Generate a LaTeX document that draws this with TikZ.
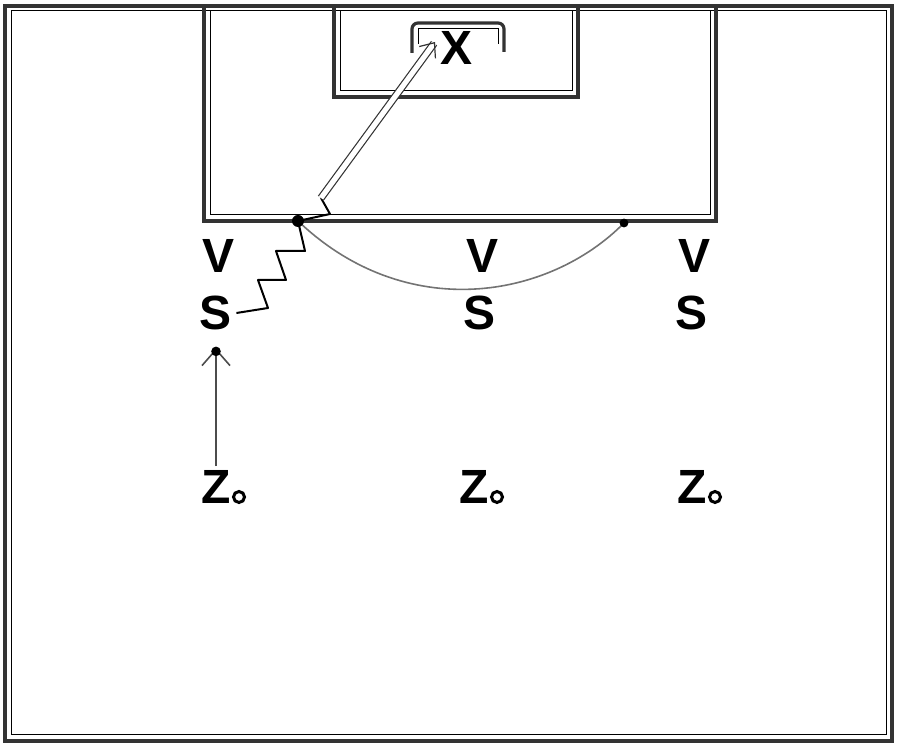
\documentclass[tikz,border=0pt]{standalone}
\usepackage{fontspec}
\setmainfont{Liberation Sans}
\usetikzlibrary{arrows.meta}

\begin{document}
\begin{tikzpicture}[x=0.5pt,y=-0.5pt,
		thickline/.style={line width=1.6pt, black!80},
		thinline/.style={line width=0.5pt, black},
		lbl/.style={font=\fontsize{24}{26}\selectfont\bfseries, inner sep=2pt},
		ring/.style={circle, draw, line width=1.5pt, inner sep=0pt, minimum size=5.5pt},
		pass/.style={line width=1.2pt, black!70, shorten >=7pt, -{Straight Barb[length=8pt,width=14pt,line width=0.8pt]}},
		dribble/.style={line width=1pt, black, line join=round},
		shot/.style={line width=0.6pt, double=white, double distance=2.6pt, black!80, -{Straight Barb[length=6pt,width=10pt]}}]
		\useasboundingbox (0,0) rectangle (900,747);
		% pitch
		\draw[thickline] (5,6) rectangle (892,741);
		\draw[thinline] (11,11) rectangle (886,735);
		\draw[thickline] (204,6) -- (204,221) -- (716,221) -- (716,6);
		\draw[thinline] (210,11) -- (210,215) -- (710,215) -- (710,11);
		\draw[thickline] (334,6) -- (334,97) -- (578,97) -- (578,6);
		\draw[thinline] (340,11) -- (340,91) -- (572,91) -- (572,11);
		\draw[thickline, rounded corners=3pt] (412,53) -- (412,23) -- (504,23) -- (504,52);
		\draw[thinline] (418,44) -- (418,29) -- (498,29) -- (498,44);
		% players
		\node[lbl] (X) at (457,48) {X};
		\foreach \n/\x in {1/216,2/480,3/692}{
			\node[lbl] (V\n) at (\x+3,256) {V};
			\node[lbl] (S\n) at (\x,313) {S};
		}
		\foreach \n/\x in {1/216,2/474,3/692}{
			\node[lbl] (Z\n) at (\x,487) {Z};
			\node[ring] (ring\n) at ([xshift=11.5pt]Z\n.center |- 0,497) {};
		}
		% ball path
		\coordinate (d1) at (268,308);
		\coordinate (d2) at (258,280);
		\coordinate (d3) at (286,280);
		\coordinate (d4) at (276,251);
		\coordinate (d5) at (305,251);
		\coordinate (ball) at (298,221);
		\coordinate (d6) at (330,214);
		\coordinate (shotstart) at (321,198);
		\coordinate (shotend) at (435,42);
		\coordinate (recv) at (624,223);
		\draw[pass] (Z1) -- (S1);
		\fill (S1.south) ++(0,17) circle (2.4pt);
		\draw[dribble] (S1.east) -- (d1) -- (d2) -- (d3) -- (d4) -- (d5) -- (ball) -- (d6) -- (shotstart);
		\draw[shot] (shotstart) -- (shotend);
		\draw[line width=0.8pt, black!55] (ball) .. controls (406,324) and (549,299) .. (recv);
		\fill (ball) circle (3pt);
		\fill (recv) circle (2.2pt);
\end{tikzpicture}
\end{document}
